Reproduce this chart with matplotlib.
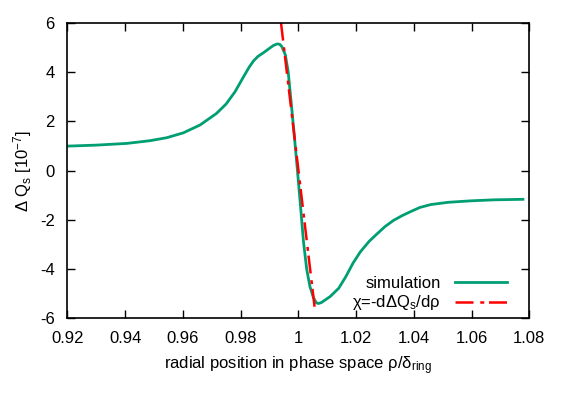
import matplotlib
matplotlib.use("Agg")
import matplotlib.pyplot as plt
from matplotlib.ticker import FuncFormatter, MultipleLocator

plt.rcParams['font.family'] = ['Liberation Sans', 'DejaVu Sans']
plt.rcParams['mathtext.fontset'] = 'custom'
plt.rcParams['mathtext.rm'] = 'Liberation Sans'
plt.rcParams['mathtext.it'] = 'Liberation Sans'

# simulated Delta Q_s (in units of 1e-7) vs radial position rho/delta_ring
rho_sim = [0.9200, 0.9300, 0.9406, 0.9486, 0.9544, 0.9602, 0.9660, 0.9717,
           0.9750, 0.9781, 0.9810, 0.9830, 0.9845, 0.9860, 0.9879, 0.9913,
           0.9927, 0.9936, 0.9943, 0.9955, 0.9965, 0.9975, 0.9987, 0.9997,
           1.0008, 1.0018, 1.0029, 1.0040, 1.0052, 1.0062, 1.0070, 1.0080,
           1.0110, 1.0140, 1.0165, 1.0190, 1.0215, 1.0245, 1.0272, 1.0300,
           1.0329, 1.0360, 1.0387, 1.0421, 1.0460, 1.0520, 1.0600, 1.0680,
           1.0778]
dq_sim = [0.99, 1.03, 1.10, 1.21, 1.33, 1.53, 1.85, 2.32,
          2.70, 3.20, 3.80, 4.20, 4.45, 4.63, 4.78, 5.07,
          5.14, 5.12, 5.03, 4.70, 4.00, 2.80, 1.30, 0.00,
          -1.50, -2.90, -4.00, -4.70, -5.15, -5.37, -5.40, -5.36,
          -5.12, -4.78, -4.30, -3.75, -3.30, -2.88, -2.58, -2.28,
          -2.03, -1.83, -1.68, -1.50, -1.38, -1.29, -1.23, -1.19,
          -1.17]

# linear chi = -d dQs / d rho
rho_chi = [0.9940, 1.0059]
dq_chi = [6.0, -5.8]

fig = plt.figure(figsize=(5.62, 3.95), dpi=100)
ax = fig.add_axes([0.1198, 0.1942, 0.822, 0.7483])

ax.plot(rho_sim, dq_sim, color='#009e73', lw=2.0, solid_joinstyle='round',
        label='simulation')
ax.plot(rho_chi, dq_chi, color='#ff0000', lw=1.8,
        dashes=[7.2, 2.7, 1.6, 1.9], label=r'χ=-dΔQ$_\mathregular{s}$/dρ')

ax.set_xlim(0.92, 1.08)
ax.set_ylim(-6, 6)
ax.xaxis.set_major_locator(MultipleLocator(0.02))
ax.yaxis.set_major_locator(MultipleLocator(2))
ax.xaxis.set_major_formatter(FuncFormatter(lambda v, p: '%g' % round(v, 4)))
ax.yaxis.set_major_formatter(FuncFormatter(lambda v, p: '%g' % v))
ax.tick_params(direction='in', length=6, width=1, top=True, right=True,
               labelsize=12, pad=9)
for s in ax.spines.values():
    s.set_linewidth(1.2)

ax.set_xlabel(r'radial position in phase space ρ/δ$_\mathregular{ring}$',
              fontsize=12, labelpad=6)
ax.set_ylabel(r'Δ Q$_\mathregular{s}$ [10$^\mathregular{-7}$]', fontsize=12, labelpad=4)

ax.legend(loc='lower right', bbox_to_anchor=(0.951, 0.02), frameon=False,
          markerfirst=False, fontsize=12, handlelength=3.1, handletextpad=0.85,
          labelspacing=0.15, borderpad=0, borderaxespad=0)

fig.savefig('out.png', dpi=100)
